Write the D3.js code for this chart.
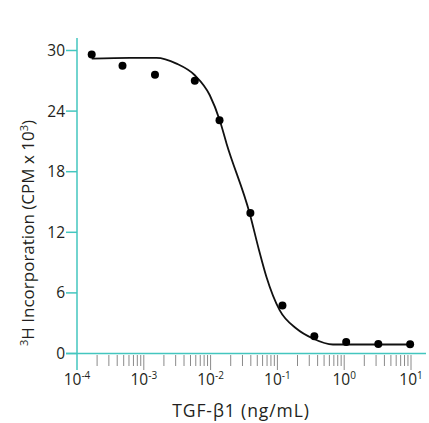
<!DOCTYPE html>
<html>
<head>
<meta charset="utf-8">
<script src="https://cdn.jsdelivr.net/npm/d3@7"></script>
<style>
  body { margin: 0; background: #fff; }
  svg { display: block; font-family: "Open Sans", sans-serif; }
</style>
</head>
<body>
<svg width="429" height="423"></svg>
<script>
// measured points (ng/mL, CPM x 10^3)
const doseValues = [0.000166, 0.00048, 0.00147, 0.0058, 0.0136, 0.0394, 0.119, 0.357, 1.07, 3.24, 9.7];
const cpmValues = [29.6, 28.5, 27.6, 27.0, 23.1, 13.9, 4.75, 1.7, 1.15, 0.95, 0.92];

// fitted curve
const fitDose = [0.000166, 0.00062, 0.00155, 0.00309, 0.0058, 0.00973, 0.01374, 0.0173, 0.0385, 0.0531, 0.0686, 0.108, 0.192, 0.340, 0.678, 1.52, 9.7];
const fitCpm = [29.2, 29.27, 29.27, 28.7, 27.55, 25.57, 23.07, 20.8, 13.86, 10.23, 7.58, 4.29, 2.48, 1.49, 0.89, 0.89, 0.89];

const yTicks = [0, 6, 12, 18, 24, 30];
const xDecades = [-4, -3, -2, -1, 0, 1];

const teal = "#43c6bf";
const ink = "#231f20";
const svg = d3.select("svg");

const x = d3.scaleLog().domain([1e-4, 10]).range([77, 411]);
const y = d3.scaleLinear().domain([0, 30]).range([353.5, 50.5]);

// y axis
svg.append("line")
  .attr("x1", 77).attr("x2", 77)
  .attr("y1", 38).attr("y2", 370)
  .attr("stroke", teal).attr("stroke-width", 1.5);

const yAxis = svg.append("g");
yAxis.selectAll("line")
  .data(yTicks)
  .enter()
  .append("line")
  .attr("x1", 66).attr("x2", 77)
  .attr("y1", (d) => y(d)).attr("y2", (d) => y(d))
  .attr("stroke", teal).attr("stroke-width", 1.5);
yAxis.selectAll("text")
  .data(yTicks)
  .enter()
  .append("text")
  .attr("x", 65)
  .attr("y", (d) => y(d))
  .attr("dy", "0.35em")
  .attr("text-anchor", "end")
  .attr("font-size", 15.5)
  .attr("fill", ink)
  .text((d) => d);

// x axis
svg.append("line")
  .attr("x1", 66).attr("x2", 426)
  .attr("y1", y(0)).attr("y2", y(0))
  .attr("stroke", teal).attr("stroke-width", 1.5);

const minor = [];
xDecades.slice(0, -1).forEach((e) => {
  for (let m = 2; m <= 10; m++) minor.push({ v: m * Math.pow(10, e), major: m === 10 });
});
svg.append("g")
  .selectAll("line")
  .data(minor)
  .enter()
  .append("line")
  .attr("x1", (d) => x(d.v)).attr("x2", (d) => x(d.v))
  .attr("y1", 355).attr("y2", (d) => (d.major ? 370 : 366))
  .attr("stroke", "#8a8a8a").attr("stroke-width", 1);

const xLabels = svg.append("g")
  .selectAll("text")
  .data(xDecades)
  .enter()
  .append("text")
  .attr("x", (d) => x(Math.pow(10, d)))
  .attr("y", 385)
  .attr("text-anchor", "middle")
  .attr("font-size", 15.5)
  .attr("fill", ink);
xLabels.append("tspan").text("10");
xLabels.append("tspan")
  .attr("dy", -6)
  .attr("font-size", 10)
  .text((d) => d);

// titles
svg.append("text")
  .attr("x", 241).attr("y", 417)
  .attr("text-anchor", "middle")
  .attr("font-size", 17.5)
  .attr("letter-spacing", 0.9)
  .attr("fill", ink)
  .text("TGF-β1 (ng/mL)");

const yTitle = svg.append("text")
  .attr("transform", "translate(34,233) rotate(-90)")
  .attr("text-anchor", "middle")
  .attr("font-size", 17)
  .attr("fill", ink);
yTitle.append("tspan").attr("font-size", 11).attr("dy", -6).text("3");
yTitle.append("tspan").attr("dy", 6).text("H Incorporation (CPM x 10");
yTitle.append("tspan").attr("font-size", 11).attr("dy", -6).text("3");
yTitle.append("tspan").attr("dy", 6).text(")");

// fit curve
const line = d3.line()
  .x((d, i) => x(fitDose[i]))
  .y((d) => y(d))
  .curve(d3.curveMonotoneX);
svg.append("path")
  .attr("d", line(fitCpm))
  .attr("fill", "none")
  .attr("stroke", "#111")
  .attr("stroke-width", 1.8);

// data points
svg.append("g")
  .selectAll("circle")
  .data(cpmValues)
  .enter()
  .append("circle")
  .attr("cx", (d, i) => x(doseValues[i]))
  .attr("cy", (d) => y(d))
  .attr("r", 4)
  .attr("fill", "#000");
</script>
</body>
</html>
